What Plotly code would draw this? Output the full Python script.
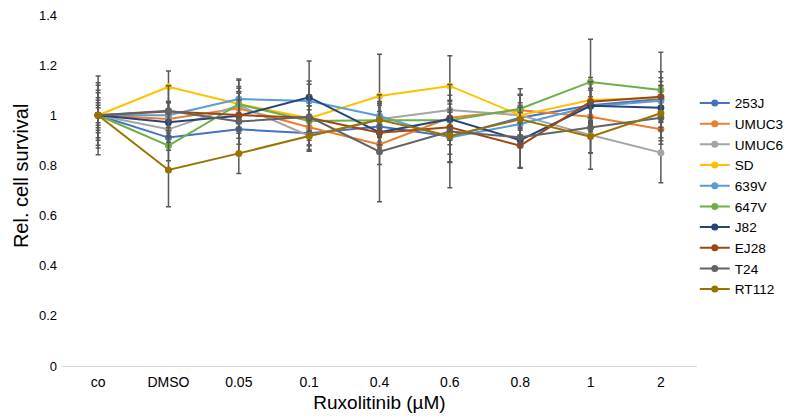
import plotly.graph_objects as go

doses = ["co", "DMSO", "0.05", "0.1", "0.4", "0.6", "0.8", "1", "2"]
series_names = ["253J", "UMUC3", "UMUC6", "SD", "639V", "647V", "J82", "EJ28", "T24", "RT112"]
colors = ["#4472C4", "#ED7D31", "#A5A5A5", "#FFC000", "#5B9BD5", "#70AD47", "#264478", "#9E480E", "#636363", "#997300"]
y_ticks = [0, 0.2, 0.4, 0.6, 0.8, 1, 1.2, 1.4]
y_tick_labels = ["0", "0.2", "0.4", "0.6", "0.8", "1", "1.2", "1.4"]

v_253J  = [1.0, 0.911, 0.944, 0.928, 0.955, 0.915, 0.99, 1.04, 1.065]
v_UMUC3 = [1.0, 0.985, 1.028, 0.952, 0.884, 0.99, 1.02, 0.994, 0.944]
v_UMUC6 = [1.0, 0.944, 1.04, 0.918, 0.984, 1.021, 1.0, 0.921, 0.851]
v_SD    = [1.0, 1.114, 1.045, 0.988, 1.077, 1.117, 1.0, 1.061, 1.07]
v_639V  = [1.0, 1.0, 1.065, 1.057, 0.997, 0.912, 0.965, 1.035, 1.058]
v_647V  = [1.0, 0.879, 1.044, 0.977, 0.98, 0.98, 1.026, 1.133, 1.101]
v_J82   = [1.0, 0.972, 0.998, 1.072, 0.932, 0.985, 0.901, 1.038, 1.03]
v_EJ28  = [1.0, 1.015, 1.001, 0.99, 0.93, 0.952, 0.879, 1.054, 1.074]
v_T24   = [1.0, 1.018, 0.975, 0.994, 0.855, 0.935, 0.912, 0.95, 0.99]
v_RT112 = [1.0, 0.782, 0.848, 0.917, 0.982, 0.917, 0.984, 0.915, 1.008]

e_253J  = [0.04, 0.05, 0.06, 0.05, 0.06, 0.07, 0.05, 0.06, 0.07]
e_UMUC3 = [0.06, 0.07, 0.08, 0.07, 0.08, 0.09, 0.06, 0.08, 0.06]
e_UMUC6 = [0.09, 0.06, 0.1, 0.06, 0.07, 0.1, 0.08, 0.07, 0.12]
e_SD    = [0.03, 0.063, 0.07, 0.05, 0.166, 0.12, 0.05, 0.09, 0.08]
e_639V  = [0.13, 0.05, 0.08, 0.08, 0.05, 0.1, 0.07, 0.1, 0.06]
e_647V  = [0.05, 0.06, 0.05, 0.06, 0.06, 0.08, 0.08, 0.17, 0.15]
e_J82   = [0.12, 0.08, 0.09, 0.145, 0.05, 0.06, 0.11, 0.07, 0.09]
e_EJ28  = [0.07, 0.04, 0.06, 0.09, 0.06, 0.07, 0.09, 0.08, 0.1]
e_T24   = [0.157, 0.1, 0.12, 0.13, 0.2, 0.12, 0.12, 0.1, 0.08]
e_RT112 = [0.1, 0.147, 0.08, 0.06, 0.1, 0.206, 0.1, 0.13, 0.11]

values = [v_253J, v_UMUC3, v_UMUC6, v_SD, v_639V, v_647V, v_J82, v_EJ28, v_T24, v_RT112]
errors = [e_253J, e_UMUC3, e_UMUC6, e_SD, e_639V, e_647V, e_J82, e_EJ28, e_T24, e_RT112]

fig = go.Figure()
for name, col, v, e in zip(series_names, colors, values, errors):
    fig.add_trace(go.Scatter(
        x=doses, y=v, name=name, mode="lines+markers",
        line=dict(color=col, width=2),
        marker=dict(color=col, size=7),
        error_y=dict(type="data", array=e, visible=True, color="#595959", thickness=1.5, width=2.5),
    ))

fig.add_annotation(
    text="Rel. cell survival", textangle=-90,
    xref="paper", yref="paper", x=-0.0646, y=0.541,
    xanchor="center", yanchor="middle", showarrow=False,
    font=dict(size=20, color="#000000"),
)

fig.update_layout(
    width=784, height=412,
    margin=dict(l=54, r=95, t=7, b=54, autoexpand=False),
    paper_bgcolor="white", plot_bgcolor="white",
    font=dict(family="Liberation Sans, Arial, sans-serif", size=13, color="#000000"),
    showlegend=True,
    legend=dict(x=0.9965, y=0.793, xanchor="left", yanchor="top", itemwidth=30,
                font=dict(size=13.6, color="#000000"), tracegroupgap=0,
                bgcolor="rgba(0,0,0,0)"),
    xaxis=dict(
        type="category", showgrid=False, showline=True, linecolor="#D9D9D9", linewidth=1,
        ticks="", tickfont=dict(size=14, color="#000000"), ticklabelstandoff=3,
        title=dict(text="Ruxolitinib (µM)", font=dict(size=19, color="#000000"), standoff=6),
        zeroline=False, automargin=False,
    ),
    yaxis=dict(
        range=[0, 1.4], tickmode="array", tickvals=y_ticks, ticktext=y_tick_labels,
        showgrid=False, showline=False, zeroline=False,
        ticks="", tickfont=dict(size=13, color="#000000"),
        ticklabelstandoff=4, ticklabeloverflow="allow", automargin=False,
    ),
)

fig.write_html("out.html")
